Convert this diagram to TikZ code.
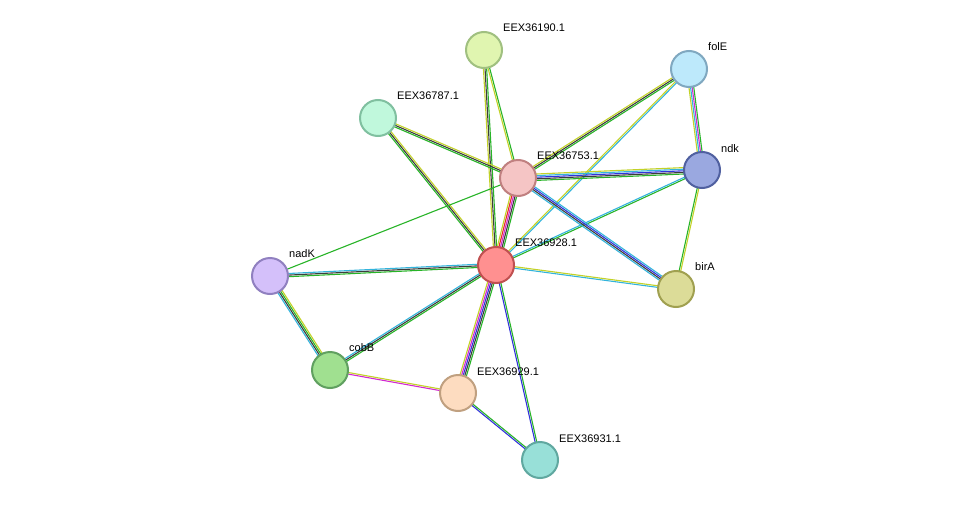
\documentclass[tikz,border=0pt]{standalone}
\usepackage{fontspec}
\setmainfont{Liberation Sans}
\usetikzlibrary{calc}
\definecolor{cG}{RGB}{40,180,40}
\definecolor{cY}{RGB}{195,210,40}
\definecolor{cK}{RGB}{60,60,60}
\definecolor{cC}{RGB}{50,180,220}
\definecolor{cB}{RGB}{50,50,220}
\definecolor{cM}{RGB}{210,40,210}
\definecolor{cR}{RGB}{230,40,40}
\newcommand\edg[4]{\foreach \c [count=\i] in {#4} {
  \pgfmathsetmacro\o{(\i-(#3+1)/2)*1.6}
  \draw[\c, line width=1.1pt] ($(#1)!\o pt!90:(#2)$) -- ($(#2)!\o pt!-90:(#1)$);}}
\tikzset{prot/.style={circle, minimum size=36pt, inner sep=0pt, line width=2pt},
  lbl/.style={anchor=west, font=\fontsize{11}{13}\selectfont, inner sep=1pt}}
\begin{document}
\begin{tikzpicture}[x=1pt,y=-1pt]
\useasboundingbox[fill=white] (0,0) rectangle (976,506);
\coordinate (p190) at (484,50);
\coordinate (pfolE) at (689,69);
\coordinate (p787) at (378,118);
\coordinate (p753) at (518,178);
\coordinate (pndk) at (702,170);
\coordinate (p928) at (496,265);
\coordinate (pnadK) at (270,276);
\coordinate (pbirA) at (676,289);
\coordinate (pcobB) at (330,370);
\coordinate (p929) at (458,393);
\coordinate (p931) at (540,460);
\edg{p928}{p190}{3}{cG,cK,cY}
\edg{p928}{p787}{3}{cY,cK,cG}
\edg{p928}{pfolE}{2}{cC,cY}
\edg{p928}{pndk}{2}{cG,cC}
\edg{p928}{pnadK}{3}{cC,cK,cG}
\edg{p928}{pbirA}{2}{cC,cY}
\edg{p928}{pcobB}{3}{cC,cK,cG}
\edg{p928}{p929}{5}{cY,cM,cB,cK,cG}
\edg{p928}{p931}{2}{cB,cG}
\edg{p753}{p190}{2}{cG,cY}
\edg{p753}{p787}{3}{cY,cK,cG}
\edg{p753}{pfolE}{3}{cG,cK,cY}
\edg{p753}{pndk}{5}{cG,cK,cB,cC,cY}
\edg{p753}{pbirA}{4}{cC,cK,cB,cC}
\edg{p753}{pnadK}{1}{cG}
\edg{p928}{p753}{5}{cG,cK,cM,cR,cY}
\edg{pndk}{pfolE}{4}{cG,cM,cC,cY}
\edg{pndk}{pbirA}{2}{cG,cY}
\edg{pnadK}{pcobB}{4}{cC,cK,cG,cY}
\edg{pcobB}{p929}{2}{cM,cY}
\edg{p929}{p931}{2}{cB,cG}
\node[prot, fill={rgb,255:red,224;green,245;blue,176}, draw={rgb,255:red,160;green,192;blue,128}] (n190) at (p190) {};
\node[prot, fill={rgb,255:red,189;green,233;blue,251}, draw={rgb,255:red,128;green,168;blue,192}] (nfolE) at (pfolE) {};
\node[prot, fill={rgb,255:red,192;green,248;blue,220}, draw={rgb,255:red,128;green,192;blue,160}] (n787) at (p787) {};
\node[prot, fill={rgb,255:red,245;green,197;blue,197}, draw={rgb,255:red,192;green,128;blue,128}] (n753) at (p753) {};
\node[prot, fill={rgb,255:red,154;green,168;blue,224}, draw={rgb,255:red,80;green,96;blue,160}] (nndk) at (pndk) {};
\node[prot, fill={rgb,255:red,255;green,144;blue,144}, draw={rgb,255:red,192;green,80;blue,80}] (n928) at (p928) {};
\node[prot, fill={rgb,255:red,212;green,192;blue,250}, draw={rgb,255:red,144;green,128;blue,192}] (nnadK) at (pnadK) {};
\node[prot, fill={rgb,255:red,220;green,220;blue,152}, draw={rgb,255:red,160;green,160;blue,80}] (nbirA) at (pbirA) {};
\node[prot, fill={rgb,255:red,160;green,224;blue,144}, draw={rgb,255:red,96;green,160;blue,96}] (ncobB) at (pcobB) {};
\node[prot, fill={rgb,255:red,253;green,220;blue,192}, draw={rgb,255:red,192;green,160;blue,128}] (n929) at (p929) {};
\node[prot, fill={rgb,255:red,152;green,224;blue,216}, draw={rgb,255:red,96;green,168;blue,160}] (n931) at (p931) {};
\node[lbl] (l190) at (502,28) {EEX36190.1};
\node[lbl] (lfolE) at (707,47) {folE};
\node[lbl] (l787) at (396,96) {EEX36787.1};
\node[lbl] (l753) at (536,156) {EEX36753.1};
\node[lbl] (lndk) at (720,149) {ndk};
\node[lbl] (l928) at (514,243) {EEX36928.1};
\node[lbl] (lnadK) at (288,254) {nadK};
\node[lbl] (lbirA) at (694,267) {birA};
\node[lbl] (lcobB) at (348,348) {cobB};
\node[lbl] (l929) at (476,372) {EEX36929.1};
\node[lbl] (l931) at (558,439) {EEX36931.1};
\end{tikzpicture}
\end{document}
